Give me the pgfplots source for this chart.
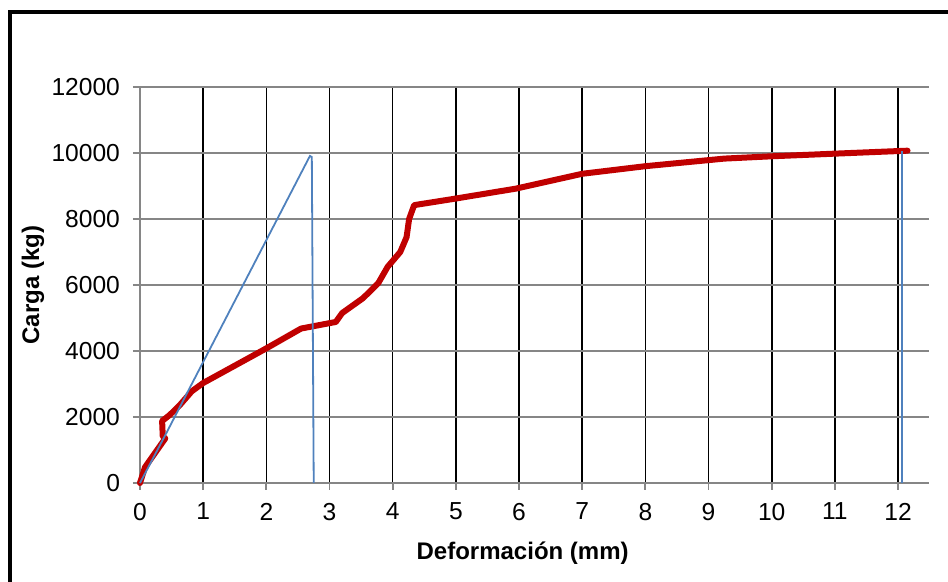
\documentclass[border=0pt]{standalone}
\usepackage{pgfplots}
\pgfplotsset{compat=1.18}
\usepackage{fontspec}
\setmainfont{Liberation Sans}

\definecolor{serieRoja}{HTML}{C00000}
\definecolor{serieAzul}{HTML}{4F81BD}
\definecolor{rejilla}{HTML}{868686}

\begin{document}
\begin{tikzpicture}
\useasboundingbox (0,0) rectangle (474pt,291pt);
% marco del grafico (solo se ven los lados izquierdo y superior)
\draw[line width=2pt] (5pt,-2pt) -- (5pt,285pt) -- (476pt,285pt);

\begin{axis}[
    at={(70pt,49.5pt)}, anchor=south west,
    scale only axis,
    width=394.5pt, height=198pt,
    xmin=0, xmax=12.49,
    ymin=0, ymax=12000,
    xtick={1,...,12},
    extra x ticks={0},
    extra x tick style={grid=none},
    ytick={0,2000,...,12000},
    xmajorgrids, ymajorgrids,
    x grid style={black, line width=0.8pt},
    y grid style={rejilla, line width=0.9pt},
    axis x line=bottom, axis y line=left,
    axis line style={-, draw=rejilla, line width=0.9pt},
    tick style={draw=rejilla, line width=0.9pt},
    tick align=outside,
    major tick length=3.5pt,
    scaled y ticks=false,
    /pgf/number format/assume math mode=true,
    /pgf/number format/1000 sep={},
    ticklabel style={font=\fontsize{12.3}{14}\selectfont},
    xticklabel style={yshift=-3pt},
    yticklabel style={xshift=-3pt},
    xlabel={\textbf{Deformación (mm)}},
    ylabel={\textbf{Carga (kg)}},
    xlabel style={font=\fontsize{12}{14}\selectfont, at={(axis description cs:0.485,-0.1768)}, anchor=center},
    ylabel style={font=\fontsize{12}{14}\selectfont, at={(axis description cs:-0.1356,0.5)}, anchor=center},
    clip=false,
]
\addplot[serieRoja, line width=3pt, line join=round, line cap=round] coordinates {
    (0,0) (0.08,480) (0.40,1350) (0.36,1420) (0.35,1880) (0.47,2060)
    (0.63,2360) (0.82,2780) (1.0,3030) (2.0,4080) (2.55,4680) (3.1,4880)
    (3.2,5150) (3.53,5600) (3.77,6050) (3.92,6550) (4.12,7000) (4.22,7450)
    (4.26,8000) (4.34,8420) (5.0,8620) (5.95,8920) (7.0,9370) (8.0,9600)
    (9.25,9830) (10,9900) (11,9980) (12.15,10070)
};
\addplot[serieAzul, line width=0.9pt] coordinates {
    (0,0) (0.40,1450) (2.69,9910) (2.72,9880) (2.75,0)
};
\addplot[serieAzul, line width=0.9pt] coordinates {
    (12.06,0) (12.06,10070)
};
\end{axis}
\end{tikzpicture}
\end{document}
